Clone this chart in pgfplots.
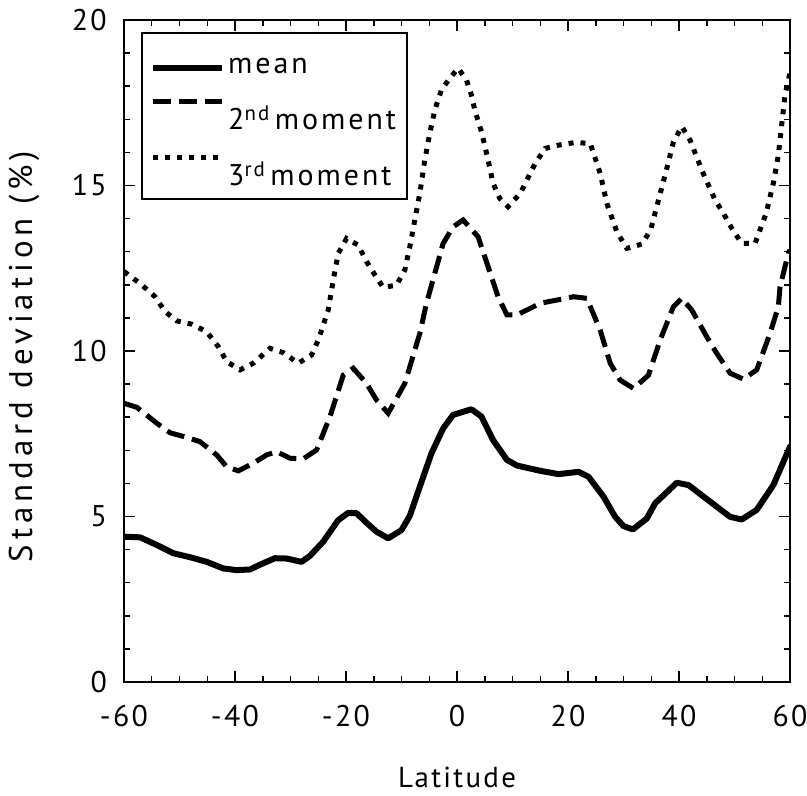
\documentclass[border=0pt]{standalone}
\usepackage{fontspec}
\setmainfont{PT Sans}[LetterSpace=8]
\usepackage{pgfplots}
\pgfplotsset{compat=1.18}
\usetikzlibrary{calc}
\newcommand{\legfont}{\fontsize{30}{36}\selectfont\addfontfeatures{LetterSpace=10}}
\pgfplotsset{
  legA/.style={legend image code/.code={\draw[##1, line cap=butt] (0bp,-8bp) -- (69bp,-8bp);}},
  legB/.style={legend image code/.code={\draw[##1] (0bp,17bp) -- (69bp,17bp);}},
}
\begin{document}
\begin{tikzpicture}
\begin{axis}[
  scale only axis,
  width=666bp, height=662bp,
  xmin=-60, xmax=60, ymin=0, ymax=20,
  xtick={-60,-40,-20,0,20,40,60},
  xticklabels={-60,-40,-20,0,20,40,60},
  ytick={0,5,10,15,20},
  yticklabels={0,5,10,15,20},
  minor xtick={-55,-50,...,55},
  minor ytick={1,2,...,19},
  tick align=inside,
  major tick length=11bp,
  minor tick length=6bp,
  tick style={black, line width=1.5bp},
  axis line style={line width=2bp},
  tick label style={font=\fontsize{30}{36}\selectfont},
  xticklabel style={inner sep=0pt, yshift=-23bp},
  yticklabel style={inner sep=0pt, xshift=-17bp},
  xlabel={\fontsize{29}{35}\selectfont Latitude},
  ylabel={Standard deviation (\%)},
  xlabel style={at={(axis description cs:0.5,-0.1601)}, anchor=base, inner sep=0pt},
  ylabel style={at={(axis description cs:-0.1381,0.4917)}, anchor=base, inner sep=0pt,
    font=\fontsize{33}{40}\selectfont\addfontfeatures{LetterSpace=15}},
  legend cell align=left,
  legend style={at={(axis description cs:0,1)}, anchor=north west,
    xshift=17.5bp, yshift=-12.5bp, draw=black, line width=1.5bp,
    inner xsep=8bp, inner ysep=10bp, row sep=22bp,
    nodes={inner xsep=3bp}},
]
\addplot[black, line width=6bp, line join=round, line cap=round, legA] coordinates {
(-60,4.39)(-57.1,4.37)(-54.1,4.14)(-51.1,3.89)(-48.1,3.77)(-45.1,3.63)(-42.1,3.43)(-39.7,3.38)(-37.3,3.40)(-34.9,3.59)(-32.8,3.74)(-30.7,3.73)(-28.0,3.63)(-26.5,3.81)(-24.1,4.24)(-21.4,4.89)(-19.6,5.11)(-18.1,5.10)(-16.3,4.81)(-14.5,4.54)(-12.4,4.34)(-10.0,4.59)(-8.5,5.02)(-6.7,5.90)(-4.6,6.91)(-2.5,7.66)(-0.7,8.07)(2.6,8.24)(4.4,8.02)(6.5,7.31)(9.0,6.71)(10.8,6.54)(15.0,6.38)(18.3,6.28)(21.9,6.35)(23.7,6.20)(26.4,5.60)(28.5,4.99)(30.0,4.71)(31.7,4.61)(34.2,4.94)(35.7,5.40)(39.6,6.02)(41.7,5.95)(45.6,5.45)(49.2,4.99)(51.3,4.91)(54.0,5.20)(57.0,5.95)(60,7.11)
};
\addlegendentry{\legfont\rule{0pt}{28bp}mean}
\addplot[black, line width=5bp, dash pattern=on 18bp off 8bp, legB] coordinates {
(-60,8.42)(-57.7,8.30)(-54.1,7.82)(-51.7,7.53)(-48.7,7.39)(-46.3,7.26)(-43.3,6.86)(-41.5,6.50)(-39.4,6.38)(-36.7,6.61)(-34.3,6.86)(-32.5,6.96)(-30.1,6.76)(-27.7,6.74)(-25.3,7.01)(-22.9,8.01)(-20.5,9.27)(-18.7,9.48)(-16.3,9.02)(-14.5,8.52)(-12.4,8.12)(-9.4,9.02)(-6.7,10.53)(-5.5,11.44)(-2.5,13.25)(-0.7,13.75)(1.1,13.96)(3.8,13.45)(5.4,12.65)(7.4,11.64)(9.0,11.09)(10.8,11.09)(15.0,11.44)(21.0,11.64)(23.4,11.59)(25.8,10.63)(27.6,9.63)(29.4,9.12)(31.8,8.87)(34.5,9.27)(36.6,10.33)(39.0,11.34)(40.5,11.59)(42.3,11.24)(45.0,10.43)(46.8,9.93)(49.2,9.33)(51.6,9.15)(54.0,9.43)(56.4,10.53)(57.9,11.34)(58.2,11.94)(59.7,12.95)(60,13.05)
};
\addlegendentry{\legfont 2\textsuperscript{nd}\,moment}
\addplot[black, line width=5bp, dash pattern=on 5bp off 7bp, legB] coordinates {
(-60,12.40)(-57.1,12.04)(-54.4,11.64)(-52.6,11.19)(-50.5,10.91)(-47.8,10.81)(-45.1,10.58)(-43.0,10.13)(-41.5,9.68)(-39.1,9.43)(-36.7,9.63)(-33.7,10.08)(-31.3,9.95)(-28.6,9.63)(-26.2,9.88)(-25.0,10.33)(-23.2,11.24)(-22.3,12.14)(-21.4,12.95)(-19.9,13.40)(-17.8,13.20)(-16.3,12.70)(-14.8,12.30)(-13.3,11.92)(-10.9,11.99)(-9.4,12.45)(-8.5,13.15)(-7.6,13.96)(-6.7,14.76)(-5.8,15.77)(-4.9,16.58)(-4.0,17.28)(-2.8,17.89)(-1.3,18.24)(0.2,18.54)(1.7,18.19)(2.6,17.73)(3.2,17.28)(4.4,16.63)(5.4,15.92)(6.5,15.07)(7.7,14.61)(9.2,14.36)(11.4,14.76)(12.6,15.17)(14.1,15.67)(15.9,16.12)(18.3,16.22)(21.3,16.30)(24.0,16.27)(24.9,15.82)(25.8,15.37)(27.0,14.46)(28.8,13.60)(30.6,13.10)(33.3,13.23)(34.9,13.66)(36.3,14.56)(37.7,15.45)(39.0,16.32)(40.5,16.78)(42.0,16.37)(44.1,15.47)(46.5,14.56)(48.0,14.16)(49.5,13.71)(51.3,13.25)(53.7,13.25)(55.7,14.16)(57.0,15.07)(57.9,15.92)(58.5,16.83)(59.1,17.73)(59.7,18.19)(60,18.4)
};
\addlegendentry{\legfont 3\textsuperscript{rd}\,moment}
\end{axis}
\pgfresetboundingbox
\path ($(current axis.south west)+(-124bp,-114bp)$) rectangle ($(current axis.north east)+(17bp,20bp)$);
\end{tikzpicture}
\end{document}
